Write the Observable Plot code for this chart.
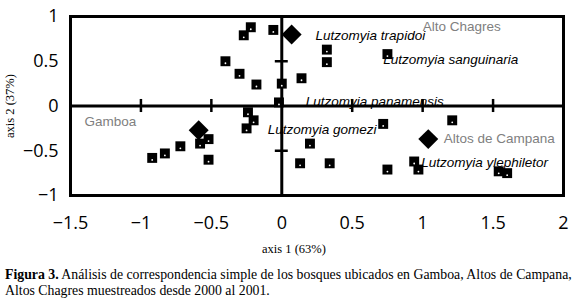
<!DOCTYPE html>
<html><head><meta charset="utf-8">
<script src="https://cdn.jsdelivr.net/npm/d3@7"></script>
<script src="https://cdn.jsdelivr.net/npm/@observablehq/plot@0.6"></script>
<style>
body{margin:0;background:#fff;}
#caption{font-family:"Liberation Serif","Times New Roman",serif;font-size:13.8px;line-height:16px;padding-left:5px;white-space:nowrap;color:#000;}
</style></head><body>
<div id="chart"></div>
<div id="caption"><b>Figura 3.</b> Análisis de correspondencia simple de los bosques ubicados en Gamboa, Altos de Campana,<br>Altos Chagres muestreados desde 2000 al 2001.</div>
<script>
// species scores (squares)
const speciesX = [-0.22,-0.27,-0.06,-0.40,-0.30,-0.18,0.00,-0.02,-0.24,-0.20,-0.25,
  -0.92,-0.83,-0.72,-0.58,-0.52,-0.52,0.32,0.32,0.14,0.75,0.72,1.21,0.20,0.13,0.34,
  0.75,0.94,0.97,1.54,1.60];
const speciesY = [0.88,0.79,0.85,0.50,0.36,0.24,0.25,0.04,-0.07,-0.16,-0.25,
  -0.58,-0.53,-0.45,-0.42,-0.37,-0.60,0.63,0.49,0.31,0.58,-0.20,-0.16,-0.42,-0.64,-0.64,
  -0.71,-0.62,-0.71,-0.73,-0.75];
// site scores (diamonds)
const siteX = [0.07,-0.59,1.04];
const siteY = [0.80,-0.27,-0.37];
// site labels
const siteNames = ["Alto Chagres","Gamboa","Altos de Campana"];
const siteLabelX = [1.00,-1.40,1.15];
const siteLabelY = [0.89,-0.18,-0.36];
// species labels
const spNames = ["Lutzomyia trapidoi","Lutzomyia sanguinaria","Lutzomyia panamensis","Lutzomyia gomezi","Lutzomyia ylephiletor"];
const spLabelX = [0.24,0.72,0.17,-0.10,0.99];
const spLabelY = [0.79,0.52,0.05,-0.27,-0.63];
// axes
const xTicks = [-1.5,-1,-0.5,0,0.5,1,1.5,2];
const yTicks = [-1,-0.5,0,0.5,1];
const crossX = [-1,-0.5,0.5,1,1.5];
const crossY = [-0.5,0.5];
const xTitle = "axis 1 (63%)";
const yTitle = "axis 2 (37%)";

const species = speciesX.map((x,i)=>({x, y: speciesY[i]}));
const sites = siteX.map((x,i)=>({x, y: siteY[i]}));
const siteLabels = siteNames.map((t,i)=>({t, x: siteLabelX[i], y: siteLabelY[i]}));
const spLabels = spNames.map((t,i)=>({t, x: spLabelX[i], y: spLabelY[i]}));

const tkY = 0.073, tkX = 0.046;
const fmt = d => (d < 0 ? "\u2212" + Math.abs(d) : String(d));

const chart = Plot.plot({
  width: 574, height: 267,
  marginLeft: 70, marginRight: 11, marginTop: 16, marginBottom: 72,
  x: {domain: [-1.5, 2]},
  y: {domain: [-1, 1]},
  style: {fontFamily: "'Open Sans', sans-serif", background: "#fff"},
  marks: [
    Plot.text(siteLabels, {x: "x", y: "y", text: "t", textAnchor: "start", lineAnchor: "middle", fill: "#808080", fontSize: 13.5, fontFamily: "'Liberation Sans', Arial, sans-serif"}),
    Plot.text(spLabels, {x: "x", y: "y", text: "t", textAnchor: "start", lineAnchor: "middle", fill: "#000", fontSize: 13.5, fontStyle: "italic", fontFamily: "'Liberation Sans', Arial, sans-serif"}),
    Plot.ruleX([0], {stroke: "#000", strokeWidth: 3}),
    Plot.ruleY([0], {stroke: "#000", strokeWidth: 3}),
    Plot.ruleX(crossX, {x: d => d, y1: -tkY, y2: tkY, stroke: "#000", strokeWidth: 2.5}),
    Plot.ruleY(crossY, {y: d => d, x1: -tkX, x2: tkX, stroke: "#000", strokeWidth: 2.5}),
    Plot.frame({stroke: "#000", strokeWidth: 3}),
    Plot.axisX({ticks: xTicks, tickSize: 0, tickPadding: 21, fontSize: 18, label: null, tickFormat: fmt, fill: "#000"}),
    Plot.axisY({ticks: yTicks, tickSize: 0, tickPadding: 12, fontSize: 18, label: null, tickFormat: fmt, fill: "#000"}),
    Plot.text([xTitle], {frameAnchor: "bottom", dy: 53, dx: -23, textAnchor: "middle", lineAnchor: "middle", fontSize: 12.5, fontFamily: "'Liberation Serif', 'Times New Roman', serif"}),
    Plot.text([yTitle], {frameAnchor: "left", dx: -61, rotate: -90, textAnchor: "middle", lineAnchor: "middle", fontSize: 12.5, fontFamily: "'Liberation Serif', 'Times New Roman', serif"}),
    Plot.dot(species, {x: "x", y: "y", symbol: "square", r: 5.6, fill: "#000", stroke: "none"}),
    Plot.dot(species, {x: "x", y: "y", r: 0.9, fill: "#fff", stroke: "none", dy: 2}),
    Plot.dot(sites, {x: "x", y: "y", symbol: "diamond2", r: 9, fill: "#000", stroke: "none"})
  ]
});
document.getElementById("chart").appendChild(chart);
</script>
</body></html>
